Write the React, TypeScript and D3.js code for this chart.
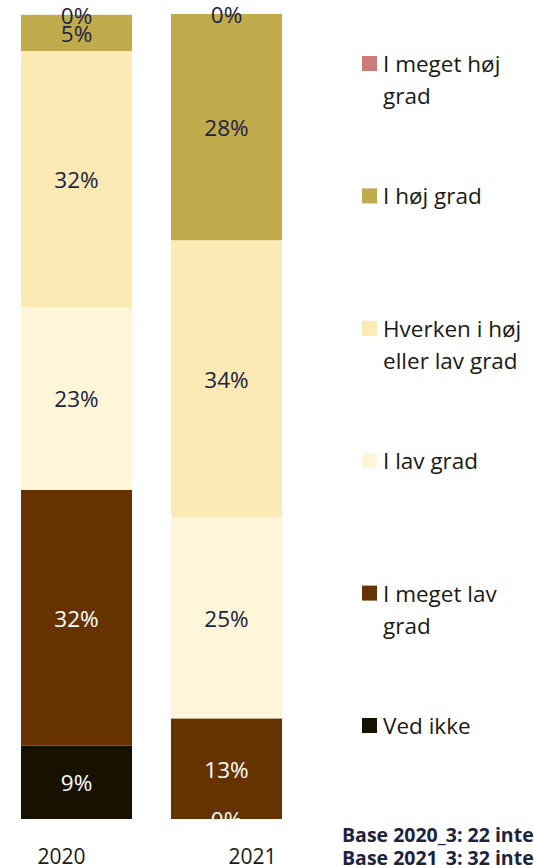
import React, { useRef, useEffect } from 'react';
import * as d3 from 'd3';

// bottom to top of each stack
const CATEGORIES = ['Ved ikke', 'I meget lav grad', 'I lav grad', 'Hverken i høj eller lav grad', 'I høj grad', 'I meget høj grad'];
const YEARS = ['2020', '2021'];
const VALUES_2020 = [9.1, 31.8, 22.7, 31.8, 4.5, 0];
const VALUES_2021 = [0, 12.5, 25.0, 34.4, 28.1, 0];
const LABELS_2020 = ['9%', '32%', '23%', '32%', '5%', '0%'];
const LABELS_2021 = ['0%', '13%', '25%', '34%', '28%', '0%'];
// legend, top to bottom, wrapped as in the original
const LEGEND_LINES = [
  ['I meget høj', 'grad'],
  ['I høj grad'],
  ['Hverken i høj', 'eller lav grad'],
  ['I lav grad'],
  ['I meget lav', 'grad'],
  ['Ved ikke'],
];
const BASE_NOTES = ['Base 2020_3: 22 interviews', 'Base 2021_3: 32 interviews'];

const COLORS = ['#171200', '#663300', '#fff6d9', '#fbeab4', '#c0aa4c', '#cd7a7a'];
const LABEL_COLORS = ['#ffffff', '#ffffff', '#1c2340', '#1c2340', '#1c2340', '#1c2340'];

const W = 534;
const H = 865;
const FONT = '"Open Sans", sans-serif';

const App = () => {
  const svgRef = useRef<SVGSVGElement | null>(null);

  useEffect(() => {
    const svg = d3.select(svgRef.current);
    svg.selectAll('*').remove();

    const rows = YEARS.map((year, i) => {
      const row: any = { year };
      const vals = i === 0 ? VALUES_2020 : VALUES_2021;
      CATEGORIES.forEach((c, j) => { row[c] = vals[j]; });
      return row;
    });
    const labels = [LABELS_2020, LABELS_2021];

    const x = d3.scaleBand().domain(YEARS).range([21, 282]).paddingInner(0.26).paddingOuter(0);
    const y = d3.scaleLinear().domain([0, 100]).range([819, 14]);

    const stack = d3.stack().keys(CATEGORIES)(rows);

    // bars
    const layers = svg.append('g')
      .selectAll('g')
      .data(stack)
      .join('g')
        .attr('fill', (d, i) => COLORS[i]);

    layers.selectAll('rect')
      .data(d => d)
      .join('rect')
        .attr('x', (d: any) => x(d.data.year)!)
        .attr('width', x.bandwidth())
        .attr('y', d => y(d[1]))
        .attr('height', d => y(d[0]) - y(d[1]));

    // value labels
    const labelG = svg.append('g')
      .style('font-family', FONT)
      .style('font-size', '22.5px')
      .attr('text-anchor', 'middle');

    stack.forEach((layer, i) => {
      layer.forEach((d: any, j) => {
        labelG.append('text')
          .attr('x', x(d.data.year)! + x.bandwidth() / 2)
          .attr('y', y((d[0] + d[1]) / 2) + 9)
          .attr('fill', LABEL_COLORS[i])
          .text(labels[j][i]);
      });
    });

    // year labels (sit a bit off the bar centres in the original)
    const yearOffset = [-15, 26];
    svg.append('g')
      .selectAll('text')
      .data(YEARS)
      .join('text')
        .attr('x', (d, i) => x(d)! + x.bandwidth() / 2 + yearOffset[i])
        .attr('y', 864)
        .attr('text-anchor', 'middle')
        .attr('fill', '#1a1a14')
        .style('font-family', FONT)
        .style('font-size', '21px')
        .text(d => d);

    // legend
    const legendColors = COLORS.slice().reverse();
    const ly = d3.scalePoint().domain(LEGEND_LINES.map(l => l.join(' '))).range([63.5, 725.5]);
    const legend = svg.append('g')
      .selectAll('g')
      .data(LEGEND_LINES)
      .join('g')
        .attr('transform', d => `translate(362,${ly(d.join(' '))})`);

    legend.append('rect')
      .attr('x', 0)
      .attr('y', -7.5)
      .attr('width', 15)
      .attr('height', 15)
      .attr('fill', (d, i) => legendColors[i]);

    legend.append('text')
      .attr('fill', '#1a1a14')
      .style('font-family', FONT)
      .style('font-size', '22.5px')
      .selectAll('tspan')
      .data(d => d)
      .join('tspan')
        .attr('x', 21)
        .attr('y', (d, i) => 8.5 + i * 32)
        .text(d => d);

    // base note
    svg.append('text')
      .attr('fill', '#1c2340')
      .style('font-family', FONT)
      .style('font-size', '19.5px')
      .style('font-weight', 'bold')
      .selectAll('tspan')
      .data(BASE_NOTES)
      .join('tspan')
        .attr('x', 342)
        .attr('y', (d, i) => 842 + i * 23)
        .text(d => d);
  }, []);

  return (
    <svg
      ref={svgRef}
      width={W}
      height={H}
      style={{ position: 'absolute', left: 0, top: 0, background: '#ffffff', overflow: 'hidden' }}
    />
  );
};

export default App;
